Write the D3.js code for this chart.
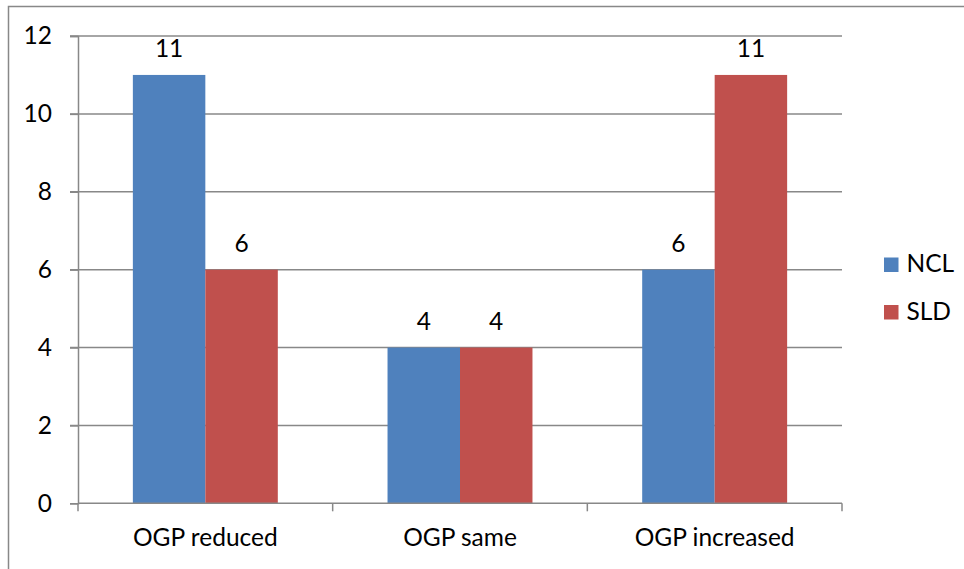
<!DOCTYPE html>
<html>
<head>
<meta charset="utf-8">
<script src="https://cdn.jsdelivr.net/npm/d3@7"></script>
<style>
  html, body { margin: 0; padding: 0; background: #fff; }
  svg { display: block; }
  text { font-family: Lato, "Liberation Sans", sans-serif; fill: #000; }
</style>
</head>
<body>
<svg id="chart" width="964" height="569"></svg>
<script>
// Data
const categories = ["OGP reduced", "OGP same", "OGP increased"];
const seriesNames = ["NCL", "SLD"];
const ncl = [11, 4, 6];
const sld = [6, 4, 11];
const yTicks = [0, 2, 4, 6, 8, 10, 12];

const colors = { NCL: "#4F81BD", SLD: "#C0504D" };
const seriesValues = { NCL: ncl, SLD: sld };

const svg = d3.select("#chart");
const W = 964, H = 569;
const margin = { left: 78, right: 122, top: 36, bottom: 65.7 };
const plotW = W - margin.left - margin.right;
const plotH = H - margin.top - margin.bottom;
const fontSize = 24.5;
const axisColor = "#888888";

// Outer chart frame (runs off the right/bottom edges)
svg.append("rect")
  .attr("x", 8.5).attr("y", 6.5)
  .attr("width", 1000).attr("height", 600)
  .attr("fill", "#fff")
  .attr("stroke", axisColor).attr("stroke-width", 1.5);

const g = svg.append("g").attr("transform", `translate(${margin.left},${margin.top})`);

const x0 = d3.scaleBand().domain(categories).range([0, plotW]).padding(0);
const x1 = d3.scaleBand().domain(seriesNames)
  .range([0, x0.bandwidth()]).paddingInner(0).paddingOuter(0.757);
const y = d3.scaleLinear().domain([0, 12]).range([plotH, 0]);

// Horizontal gridlines
g.append("g").selectAll("line").data(yTicks.filter(d => d > 0)).join("line")
  .attr("x1", -8).attr("x2", plotW)
  .attr("y1", d => y(d)).attr("y2", d => y(d))
  .attr("stroke", axisColor).attr("stroke-width", 1.5);

// Y axis
const yAxis = g.append("g")
  .call(d3.axisLeft(y).tickValues(yTicks).tickSize(8).tickPadding(18).tickFormat(d3.format("d")));
yAxis.select(".domain").attr("stroke", axisColor).attr("stroke-width", 1.5);
yAxis.selectAll(".tick line").attr("stroke", axisColor).attr("stroke-width", 1.5);
yAxis.selectAll(".tick text")
  .style("font-family", "Lato, 'Liberation Sans', sans-serif")
  .attr("font-size", fontSize).attr("fill", "#000");

// Bars
const groups = g.append("g").selectAll("g").data(categories).join("g")
  .attr("transform", d => `translate(${x0(d)},0)`);

groups.selectAll("rect")
  .data((c, i) => seriesNames.map(s => ({ s, v: seriesValues[s][i] })))
  .join("rect")
  .attr("x", d => x1(d.s))
  .attr("width", x1.bandwidth())
  .attr("y", d => y(d.v))
  .attr("height", d => plotH - y(d.v))
  .attr("fill", d => colors[d.s]);

// Value labels
groups.selectAll("text.val")
  .data((c, i) => seriesNames.map(s => ({ s, v: seriesValues[s][i] })))
  .join("text")
  .attr("class", "val")
  .attr("x", d => x1(d.s) + x1.bandwidth() / 2)
  .attr("y", d => y(d.v) - 18)
  .attr("text-anchor", "middle")
  .attr("font-size", fontSize)
  .text(d => d.v);

// X axis with category boundary ticks
const xAxisG = g.append("g").attr("transform", `translate(0,${plotH})`);
xAxisG.append("line")
  .attr("x1", 0).attr("x2", plotW)
  .attr("stroke", axisColor).attr("stroke-width", 1.5);
const boundaries = categories.map(c => x0(c)).concat([plotW]);
xAxisG.selectAll("line.tick").data(boundaries).join("line")
  .attr("class", "tick")
  .attr("x1", d => d).attr("x2", d => d)
  .attr("y1", 0).attr("y2", 8)
  .attr("stroke", axisColor).attr("stroke-width", 1.5);
xAxisG.selectAll("text").data(categories).join("text")
  .attr("x", d => x0(d) + x0.bandwidth() / 2)
  .attr("y", 42.5)
  .attr("text-anchor", "middle")
  .attr("font-size", fontSize)
  .text(d => d);

// Legend
const legend = svg.append("g").attr("transform", "translate(884,257.5)");
const li = legend.selectAll("g").data(seriesNames).join("g")
  .attr("transform", (d, i) => `translate(0,${i * 47.5})`);
li.append("rect").attr("width", 14.5).attr("height", 14.5).attr("fill", d => colors[d]);
li.append("text").attr("x", 22.5).attr("y", 14.5).attr("font-size", fontSize).text(d => d);
</script>
</body>
</html>
